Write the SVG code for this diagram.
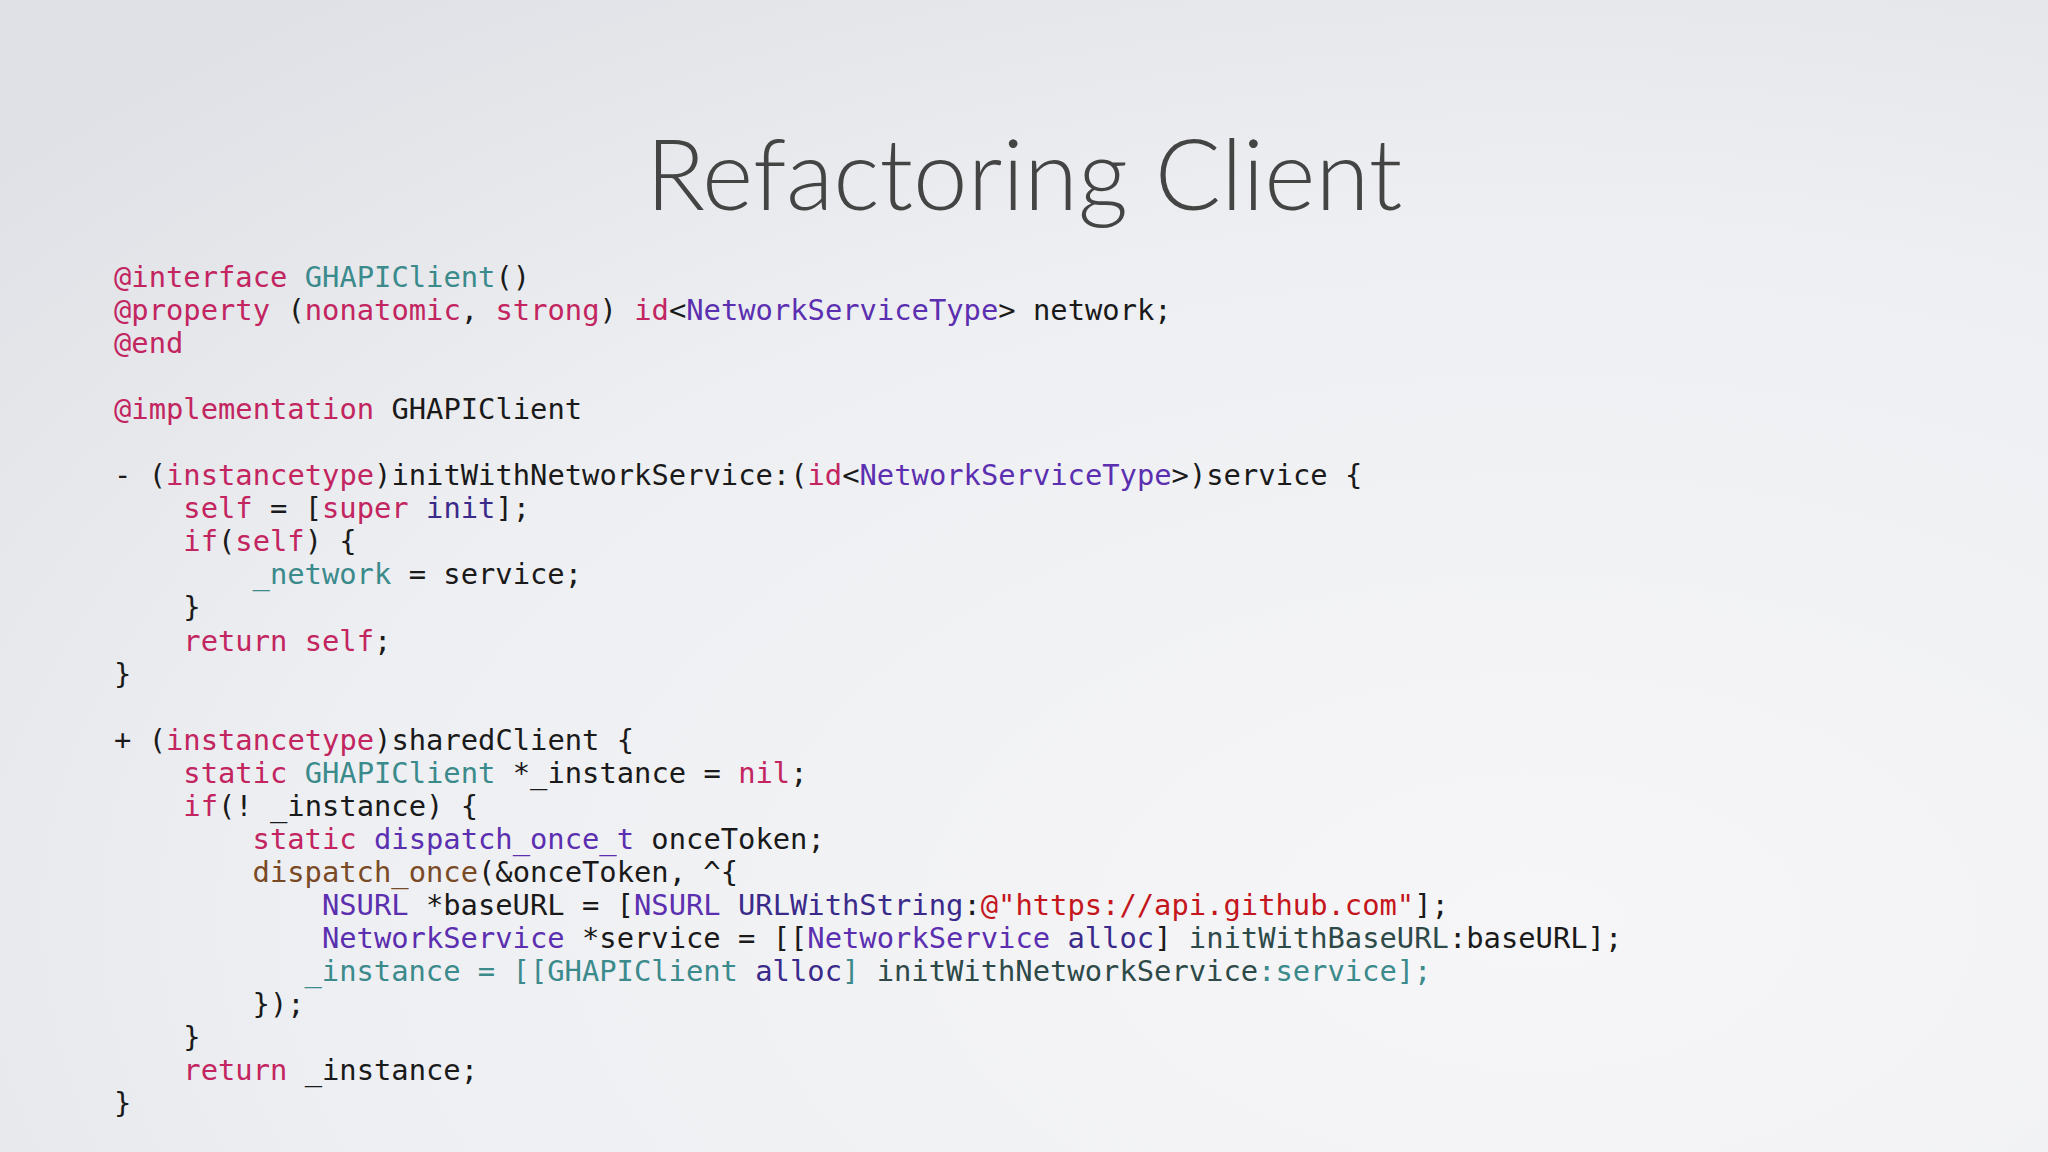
<svg xmlns="http://www.w3.org/2000/svg" width="2048" height="1152" viewBox="0 0 2048 1152">
<defs>
<radialGradient id="bg" cx="0.75" cy="0.8" r="1.0">
<stop offset="0" stop-color="#f6f6f8"/>
<stop offset="0.6" stop-color="#eeeff2"/>
<stop offset="1" stop-color="#dfe1e6"/>
</radialGradient>
</defs>
<style>
.c{font-family:"DejaVu Sans Mono",monospace;font-size:28.8px;fill:#1a1a1a}
.k{fill:#c2255f}.t{fill:#3b8a8c}.p{fill:#5b2fb0}.m{fill:#3a2a8a}.b{fill:#7a4a26}.r{fill:#c4161c}.g{fill:#2e4a48}
.title{font-family:Lato,"Open Sans",sans-serif;font-weight:300;font-size:98px;fill:#444}
</style>
<rect width="2048" height="1152" fill="url(#bg)"/>
<text class="title" x="1024" y="210" text-anchor="middle">Refactoring Client</text>
<g id="code" class="c">
<text x="114" y="287"><tspan class="k">@interface</tspan> <tspan class="t">GHAPIClient</tspan>()</text>
<text x="114" y="320"><tspan class="k">@property</tspan> (<tspan class="k">nonatomic</tspan>, <tspan class="k">strong</tspan>) <tspan class="k">id</tspan>&lt;<tspan class="p">NetworkServiceType</tspan>&gt; network;</text>
<text x="114" y="353"><tspan class="k">@end</tspan></text>
<text x="114" y="419"><tspan class="k">@implementation</tspan> GHAPIClient</text>
<text x="114" y="485">- (<tspan class="k">instancetype</tspan>)initWithNetworkService:(<tspan class="k">id</tspan>&lt;<tspan class="p">NetworkServiceType</tspan>&gt;)service {</text>
<text x="183.3" y="518"><tspan class="k">self</tspan> = [<tspan class="k">super</tspan> <tspan class="m">init</tspan>];</text>
<text x="183.3" y="551"><tspan class="k">if</tspan>(<tspan class="k">self</tspan>) {</text>
<text x="252.6" y="584"><tspan class="t">_network</tspan> = service;</text>
<text x="183.3" y="617">}</text>
<text x="183.3" y="651"><tspan class="k">return</tspan> <tspan class="k">self</tspan>;</text>
<text x="114" y="684">}</text>
<text x="114" y="750">+ (<tspan class="k">instancetype</tspan>)sharedClient {</text>
<text x="183.3" y="783"><tspan class="k">static</tspan> <tspan class="t">GHAPIClient</tspan> *_instance = <tspan class="k">nil</tspan>;</text>
<text x="183.3" y="816"><tspan class="k">if</tspan>(! _instance) {</text>
<text x="252.6" y="849"><tspan class="k">static</tspan> <tspan class="p">dispatch_once_t</tspan> onceToken;</text>
<text x="252.6" y="882"><tspan class="b">dispatch_once</tspan>(&amp;onceToken, ^{</text>
<text x="321.9" y="915"><tspan class="p">NSURL</tspan> *baseURL = [<tspan class="p">NSURL</tspan> <tspan class="m">URLWithString</tspan>:<tspan class="r">@"https://api.github.com"</tspan>];</text>
<text x="321.9" y="948"><tspan class="p">NetworkService</tspan> *service = [[<tspan class="p">NetworkService</tspan> <tspan class="m">alloc</tspan>] <tspan class="g">initWithBaseURL</tspan>:baseURL];</text>
<text x="304.5" y="981" class="t">_instance = [[GHAPIClient <tspan class="m">alloc</tspan>] <tspan class="g">initWithNetworkService</tspan>:service];</text>
<text x="252.6" y="1014">});</text>
<text x="183.3" y="1047">}</text>
<text x="183.3" y="1080"><tspan class="k">return</tspan> _instance;</text>
<text x="114" y="1113">}</text>
</g>
</svg>
